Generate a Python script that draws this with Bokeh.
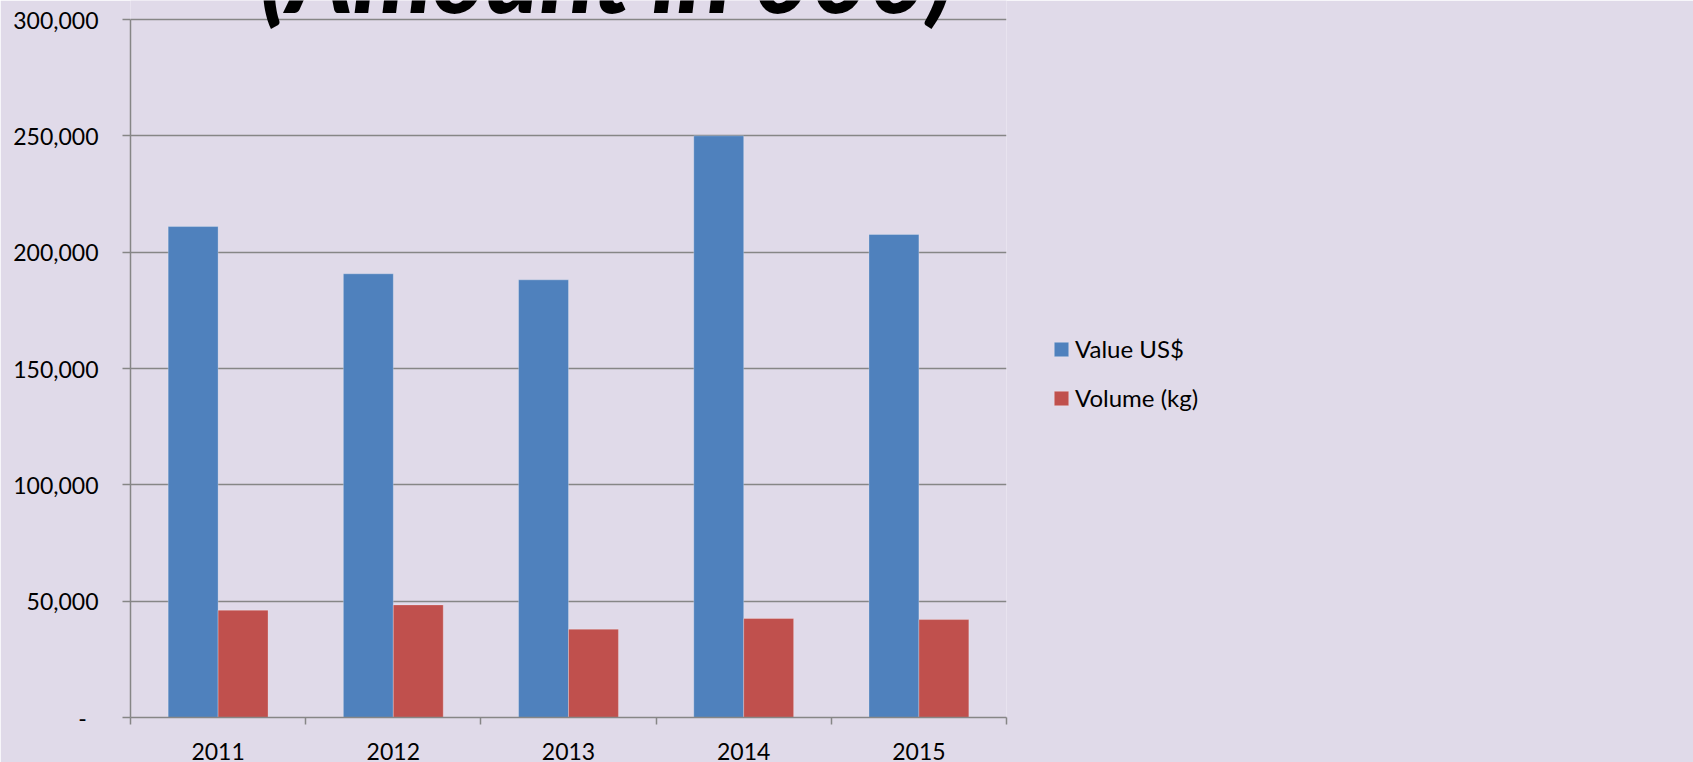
from bokeh.plotting import figure
from bokeh.models import (FixedTicker, NumeralTickFormatter, Range1d, Legend,
                          LegendItem, ColumnDataSource)
from bokeh.core.properties import value
from bokeh.embed import file_html
from bokeh.resources import INLINE

# ---- data ----
years = ["2011", "2012", "2013", "2014", "2015"]
value_usd = [211000, 190700, 188100, 250000, 207600]
volume_kg = [46100, 48400, 37950, 42550, 42100]
y_ticks = [0, 50000, 100000, 150000, 200000, 250000, 300000]
series_names = ["Value US$", "Volume (kg)"]
title_text = "(Amount in 000)"

BG = "#E0DAE9"
BLUE = "#4F81BD"
RED = "#C0504D"
GRID = "#868686"
FONT = "Lato"

# layout helpers (pixels): plot area spans canvas rows 0..717, value axis top at row 19
FRAME_PX = 717
AXIS_TOP_PX = 19
y_max = y_ticks[-1]
y_end = y_max * FRAME_PX / (FRAME_PX - AXIS_TOP_PX)
title_y = y_max * (FRAME_PX - 33) / (FRAME_PX - AXIS_TOP_PX)

bar_w = 0.285
idx = list(range(len(years)))
src = ColumnDataSource(dict(
    xb=[i + 0.5 - bar_w / 2 for i in idx],
    xr=[i + 0.5 + bar_w / 2 for i in idx],
    v=value_usd,
    k=volume_kg,
))

p = figure(width=1693, height=762, output_backend="svg", toolbar_location=None,
           x_range=Range1d(0, len(years)), y_range=Range1d(0, y_end),
           min_border_left=130, min_border_right=205, min_border_top=0,
           min_border_bottom=45)
p.background_fill_color = BG
p.border_fill_color = BG
p.outline_line_color = None

rb = p.vbar(x="xb", top="v", width=bar_w, source=src, fill_color=BLUE,
            line_color="#FFFFFF", line_alpha=0.25, line_width=1)
rr = p.vbar(x="xr", top="k", width=bar_w, source=src, fill_color=RED,
            line_color="#FFFFFF", line_alpha=0.25, line_width=1)

# title (cut off at the top, as in the reference)
tsrc = ColumnDataSource(dict(x=[len(years) / 2 + 0.22], y=[title_y], t=[title_text]))
p.text(x="x", y="y", text="t", source=tsrc, text_align="center",
       text_baseline="bottom", text_font=value("Lato Heavy, Lato Black, Lato"),
       text_font_style="italic", text_font_size="100px",
       text_color="#000000")

# grid
p.xgrid.grid_line_color = None
p.ygrid.grid_line_color = GRID
p.ygrid.grid_line_width = 1.5

# y axis
ya = p.yaxis[0]
ya.ticker = FixedTicker(ticks=y_ticks)
ya.bounds = (0, y_max)
ya.formatter = NumeralTickFormatter(format="0,0")
ya.major_label_overrides = {0: "-\u00a0\u00a0"}
ya.axis_line_color = GRID
ya.axis_line_width = 1.5
ya.major_tick_line_color = GRID
ya.major_tick_line_width = 1.5
ya.major_tick_out = 8
ya.major_tick_in = 0
ya.minor_tick_line_color = None
ya.major_label_standoff = 24
ya.major_label_text_font = FONT
ya.major_label_text_font_size = "23px"
ya.major_label_text_color = "#000000"

# x axis
xa = p.xaxis[0]
centers = [i + 0.5 for i in idx]
xa.ticker = FixedTicker(ticks=centers, minor_ticks=list(range(len(years) + 1)))
xa.major_label_overrides = {c: y for c, y in zip(centers, years)}
xa.axis_line_color = GRID
xa.axis_line_width = 1.5
xa.major_tick_line_color = None
xa.major_tick_out = 0
xa.major_tick_in = 0
xa.minor_tick_line_color = GRID
xa.minor_tick_line_width = 1.5
xa.minor_tick_out = 7
xa.minor_tick_in = 0
xa.major_label_standoff = 18
xa.major_label_text_font = FONT
xa.major_label_text_font_size = "23px"
xa.major_label_text_color = "#000000"

# legend (right panel)
legend = Legend(items=[LegendItem(label=series_names[0], renderers=[rb]),
                       LegendItem(label=series_names[1], renderers=[rr])],
                location=(46, 305), orientation="vertical",
                glyph_width=18, glyph_height=18, label_height=24,
                label_width=182, spacing=20, padding=0, margin=0,
                label_standoff=5, border_line_color=None,
                background_fill_alpha=0,
                label_text_font=FONT, label_text_font_size="24px",
                label_text_color="#000000")
p.add_layout(legend, "right")

html = file_html(p, INLINE)
open("out.html", "w").write(html)
